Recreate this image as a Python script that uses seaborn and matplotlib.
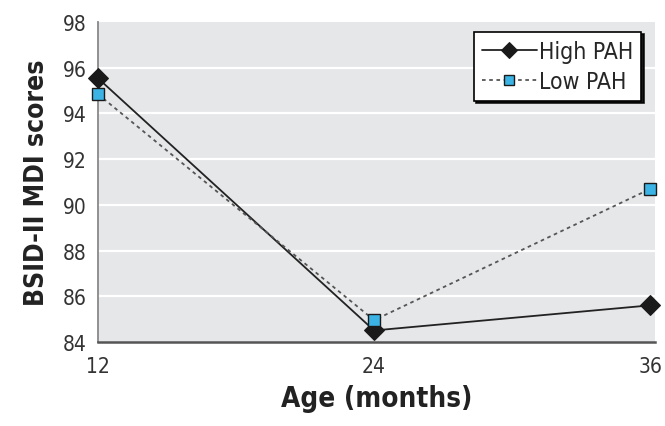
import pandas as pd
import matplotlib
matplotlib.use('Agg')
import matplotlib.pyplot as plt
import seaborn as sns

# values
ages = [12, 24, 36]
high_pah = [95.55, 84.5, 85.6]
low_pah = [94.85, 84.95, 90.7]
y_ticks = [84, 86, 88, 90, 92, 94, 96, 98]


def build_frame():
    """Long-form table for seaborn."""
    high = pd.DataFrame({'Age': ages, 'Score': high_pah, 'Group': 'High PAH'})
    low = pd.DataFrame({'Age': ages, 'Score': low_pah, 'Group': 'Low PAH'})
    return pd.concat([high, low], ignore_index=True)


def main():
    sns.set_style('white')
    plt.rcParams['font.family'] = ['DejaVu Sans']
    plt.rcParams['font.stretch'] = 'condensed'

    data = build_frame()
    fig = plt.figure(figsize=(6.65, 4.27), dpi=100)
    ax = fig.add_axes([0.147, 0.197, 0.838, 0.749])
    ax.set_facecolor('#e6e7e9')

    for y in y_ticks[1:-1]:
        ax.axhline(y, color='white', lw=1.6, zorder=0)

    sns.lineplot(data=data[data.Group == 'High PAH'], x='Age', y='Score',
                 ax=ax, color='#222222', lw=1.3, marker='D', markersize=10,
                 markerfacecolor='#1a1a1a', markeredgecolor='#1a1a1a',
                 label='High PAH', clip_on=False, zorder=3)
    sns.lineplot(data=data[data.Group == 'Low PAH'], x='Age', y='Score',
                 ax=ax, color='#555555', lw=1.3, linestyle=(0, (2, 2)),
                 marker='s', markersize=9, markerfacecolor='#3bb4e5',
                 markeredgecolor='#1a1a1a', markeredgewidth=1.0,
                 label='Low PAH', clip_on=False, zorder=4)

    ax.set_xlim(12, 36.2)
    ax.set_ylim(84, 98)
    ax.set_xticks(ages)
    ax.set_yticks(y_ticks)
    ax.tick_params(axis='x', direction='out', length=7, width=1.2,
                   color='#333333', labelsize=15, labelcolor='#333333', pad=3)
    ax.tick_params(axis='y', length=0, labelsize=15, labelcolor='#333333', pad=8)

    for side in ['top', 'right']:
        ax.spines[side].set_visible(False)
    ax.spines['left'].set_color('#888888')
    ax.spines['left'].set_linewidth(1.3)
    ax.spines['bottom'].set_color('#555555')
    ax.spines['bottom'].set_linewidth(1.8)

    ax.set_xlabel('Age (months)', fontsize=20, fontweight='bold',
                  color='#222222', labelpad=6)
    ax.set_ylabel('BSID-II MDI scores', fontsize=19, fontweight='bold',
                  color='#222222', labelpad=9)

    leg = ax.legend(loc='upper right', bbox_to_anchor=(0.975, 0.97),
                    frameon=True, fancybox=False,
                    shadow={'color': 'black', 'alpha': 0.9},
                    fontsize=16.5, handlelength=2.4, handletextpad=0.1,
                    borderpad=0.35, labelspacing=0.3, borderaxespad=0,
                    markerscale=0.85)
    leg.get_frame().set_edgecolor('black')
    leg.get_frame().set_linewidth(1.2)
    leg.get_frame().set_alpha(1)

    fig.savefig('out.png', dpi=100)


if __name__ == '__main__':
    main()
